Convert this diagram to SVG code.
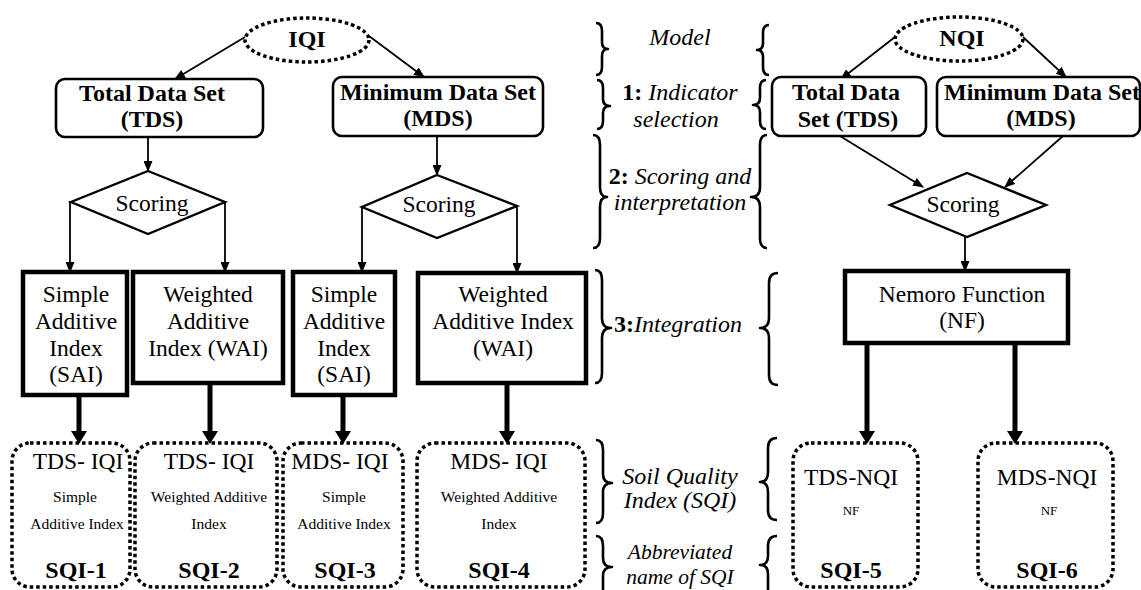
<svg xmlns="http://www.w3.org/2000/svg" width="1141" height="590" viewBox="0 0 1141 590" font-family="Liberation Serif, 'DejaVu Serif', serif">
<style>
text{font-family:'Liberation Serif','DejaVu Serif',serif;fill:#000;text-anchor:middle}
.b{font-weight:bold;font-size:24px}
.m{font-size:23.5px}
.s{font-size:15.5px}
.xs{font-size:13px}
.i{font-style:italic;font-size:24px}
.i2{font-style:italic;font-size:21.5px}
.ell{fill:none;stroke:#000;stroke-width:3.5;stroke-dasharray:3.5 3}
.dot{fill:none;stroke:#000;stroke-width:3.5;stroke-dasharray:3.5 3}
.rb{fill:#fff;stroke:#000;stroke-width:2.6}
.tb{fill:#fff;stroke:#000;stroke-width:4.5}
.dia{fill:#fff;stroke:#000;stroke-width:2.4}
.ar{fill:none;stroke:#000;stroke-width:1.8;marker-end:url(#ah)}
.tk{fill:none;stroke:#000;stroke-width:5;marker-end:url(#th)}
.br{fill:none;stroke:#000;stroke-width:2.6;stroke-linejoin:round}
</style>
<defs>
<marker id="ah" markerUnits="userSpaceOnUse" markerWidth="11" markerHeight="9" refX="10" refY="4.5" orient="auto"><path d="M0,0 L11,4.5 L0,9 z" fill="#000"/></marker>
<marker id="th" markerUnits="userSpaceOnUse" markerWidth="13" markerHeight="16" refX="1" refY="8" orient="auto"><path d="M0,0 L13,8 L0,16 z" fill="#000"/></marker>
</defs>
<rect width="1141" height="590" fill="#fff"/>

<g id="connectors">
<line class="ar" x1="245" y1="37" x2="175" y2="79"/>
<line class="ar" x1="369" y1="36" x2="424" y2="77"/>
<line class="ar" x1="148" y1="137" x2="148" y2="171"/>
<line class="ar" x1="437" y1="136" x2="437" y2="175"/>
<polyline class="ar" points="72,202 70,202 70,272"/>
<polyline class="ar" points="225,202 225,272"/>
<polyline class="ar" points="362,207 362,272"/>
<polyline class="ar" points="517,206 517,273"/>
<line class="tk" x1="79" y1="395" x2="79" y2="432"/>
<line class="tk" x1="210" y1="383" x2="210" y2="432"/>
<line class="tk" x1="343" y1="395" x2="343" y2="432"/>
<line class="tk" x1="507" y1="383" x2="507" y2="432"/>
<line class="ar" x1="895" y1="37" x2="841" y2="79"/>
<line class="ar" x1="1023" y1="37" x2="1066" y2="77"/>
<line class="ar" x1="840" y1="136" x2="923" y2="187"/>
<line class="ar" x1="1063" y1="136" x2="1005" y2="187"/>
<line class="ar" x1="965" y1="237" x2="965" y2="271"/>
<line class="tk" x1="867" y1="343" x2="867" y2="432"/>
<line class="tk" x1="1015" y1="343" x2="1015" y2="432"/>
</g>

<g id="iqi">
<ellipse class="ell" cx="307" cy="40" rx="62" ry="22"/>
<text class="b" x="307" y="47">IQI</text>
</g>
<g id="tds">
<rect class="rb" x="56" y="79" width="207" height="58" rx="9"/>
<text class="b" x="152" y="101">Total Data Set</text>
<text class="b" x="152" y="127">(TDS)</text>
</g>
<g id="mds">
<rect class="rb" x="333" y="77" width="210" height="59" rx="9"/>
<text class="b" x="438" y="100">Minimum Data Set</text>
<text class="b" x="438" y="126">(MDS)</text>
</g>
<g id="scoring-tds">
<polygon class="dia" points="148,171 225,202 148,234 71,202"/>
<text class="m" x="152" y="211">Scoring</text>
</g>
<g id="scoring-mds">
<polygon class="dia" points="437,175 517,206 437,238 362,207"/>
<text class="m" x="439" y="212">Scoring</text>
</g>
<g id="sai1">
<rect class="tb" x="23" y="272" width="104" height="123"/>
<text class="m" x="76" y="302">Simple</text>
<text class="m" x="76" y="329">Additive</text>
<text class="m" x="76" y="356">Index</text>
<text class="m" x="76" y="382">(SAI)</text>
</g>
<g id="wai1">
<rect class="tb" x="133" y="272" width="150" height="111"/>
<text class="m" x="208" y="302">Weighted</text>
<text class="m" x="208" y="329">Additive</text>
<text class="m" x="208" y="356">Index (WAI)</text>
</g>
<g id="sai2">
<rect class="tb" x="293" y="272" width="102" height="123"/>
<text class="m" x="344" y="302">Simple</text>
<text class="m" x="344" y="329">Additive</text>
<text class="m" x="344" y="356">Index</text>
<text class="m" x="344" y="382">(SAI)</text>
</g>
<g id="wai2">
<rect class="tb" x="418" y="273" width="168" height="110"/>
<text class="m" x="503" y="302">Weighted</text>
<text class="m" x="503" y="329">Additive Index</text>
<text class="m" x="503" y="356">(WAI)</text>
</g>

<g id="sqi1">
<rect class="dot" x="12" y="443" width="118" height="144" rx="18"/>
<text class="m" x="78" y="469">TDS- IQI</text>
<text class="s" x="75" y="502">Simple</text>
<text class="s" x="77" y="529">Additive Index</text>
<text class="b" x="76" y="578">SQI-1</text>
</g>
<g id="sqi2">
<rect class="dot" x="135" y="443" width="142" height="144" rx="18"/>
<text class="m" x="209" y="469">TDS- IQI</text>
<text class="s" x="209" y="502">Weighted Additive</text>
<text class="s" x="209" y="529">Index</text>
<text class="b" x="209" y="578">SQI-2</text>
</g>
<g id="sqi3">
<rect class="dot" x="283" y="443" width="120" height="144" rx="18"/>
<text class="m" x="340" y="469">MDS- IQI</text>
<text class="s" x="344" y="502">Simple</text>
<text class="s" x="344" y="529">Additive Index</text>
<text class="b" x="345" y="578">SQI-3</text>
</g>
<g id="sqi4">
<rect class="dot" x="417" y="443" width="168" height="144" rx="18"/>
<text class="m" x="499" y="469">MDS- IQI</text>
<text class="s" x="499" y="502">Weighted Additive</text>
<text class="s" x="499" y="529">Index</text>
<text class="b" x="499" y="578">SQI-4</text>
</g>

<g id="nqi">
<ellipse class="ell" cx="959" cy="39" rx="64" ry="22"/>
<text class="b" x="962" y="46">NQI</text>
</g>
<g id="tds-n">
<rect class="rb" x="772" y="77" width="154" height="59" rx="9"/>
<text class="b" x="846" y="100">Total Data</text>
<text class="b" x="848" y="127">Set (TDS)</text>
</g>
<g id="mds-n">
<rect class="rb" x="937" y="77" width="203" height="59" rx="9"/>
<text class="b" x="1042" y="100">Minimum Data Set</text>
<text class="b" x="1041" y="126">(MDS)</text>
</g>
<g id="scoring-n">
<polygon class="dia" points="967,173 1046,205 967,237 890,205"/>
<text class="m" x="963" y="212">Scoring</text>
</g>
<g id="nf">
<rect class="tb" x="845" y="271" width="223" height="72"/>
<text class="m" x="962" y="302">Nemoro Function</text>
<text class="m" x="962" y="328">(NF)</text>
</g>
<g id="sqi5">
<rect class="dot" x="793" y="443" width="125" height="144" rx="18"/>
<text class="m" x="851" y="485">TDS-NQI</text>
<text class="xs" x="851" y="515">NF</text>
<text class="b" x="851" y="578">SQI-5</text>
</g>
<g id="sqi6">
<rect class="dot" x="978" y="443" width="135" height="144" rx="18"/>
<text class="m" x="1047" y="485">MDS-NQI</text>
<text class="xs" x="1049" y="515">NF</text>
<text class="b" x="1047" y="578">SQI-6</text>
</g>

<g id="legend">
<path class="br" d="M596,23 Q602,23 602,31 L602,42 Q602,49 608,49 Q602,49 602,56 L602,67 Q602,75 596,75"/>
<path class="br" d="M597,80 Q603,80 603,88 L603,99 Q603,106 610,106 Q603,106 603,113 L603,121 Q603,129 597,129"/>
<path class="br" d="M593,135 Q600,135 600,145 L600,187 Q600,197 607,197 Q600,197 600,207 L600,238 Q600,248 593,248"/>
<path class="br" d="M595,270 Q602,270 602,280 L602,318 Q602,328 611,328 Q602,328 602,338 L602,373 Q602,383 595,383"/>
<path class="br" d="M596,440 Q603,440 603,450 L603,474 Q603,483 612,483 Q603,483 603,492 L603,513 Q603,523 596,523"/>
<path class="br" d="M596,536 Q603,536 603,546 L603,558 Q603,567 612,567 Q603,567 603,576 L603,590"/>

<path class="br" d="M769,25 Q763,25 763,33 L763,43 Q763,50 757,50 Q763,50 763,57 L763,67 Q763,75 769,75"/>
<path class="br" d="M766,80 Q760,80 760,88 L760,98 Q760,105 753,105 Q760,105 760,112 L760,121 Q760,129 766,129"/>
<path class="br" d="M767,135 Q760,135 760,145 L760,187 Q760,197 751,197 Q760,197 760,207 L760,238 Q760,248 767,248"/>
<path class="br" d="M778,273 Q769,273 769,283 L769,318 Q769,328 760,328 Q769,328 769,338 L769,375 Q769,385 778,385"/>
<path class="br" d="M777,438 Q768,438 768,448 L768,472 Q768,482 760,482 Q768,482 768,492 L768,510 Q768,520 777,520"/>
<path class="br" d="M777,536 Q768,536 768,546 L768,556 Q768,565 760,565 Q768,565 768,574 L768,590"/>

<text class="i" x="680" y="45">Model</text>
<text class="i" x="680" y="100"><tspan font-weight="bold" font-style="normal">1:</tspan> Indicator</text>
<text class="i" x="676" y="127">selection</text>
<text class="i" x="680" y="184"><tspan font-weight="bold" font-style="normal">2:</tspan> Scoring and</text>
<text class="i" x="680" y="210">interpretation</text>
<text class="i" x="678" y="332"><tspan font-weight="bold" font-style="normal">3:</tspan>Integration</text>
<text class="i" x="680" y="484">Soil Quality</text>
<text class="i" x="680" y="508">Index (SQI)</text>
<text class="i2" x="680" y="559">Abbreviated</text>
<text class="i2" x="680" y="584">name of SQI</text>
</g>
</svg>
